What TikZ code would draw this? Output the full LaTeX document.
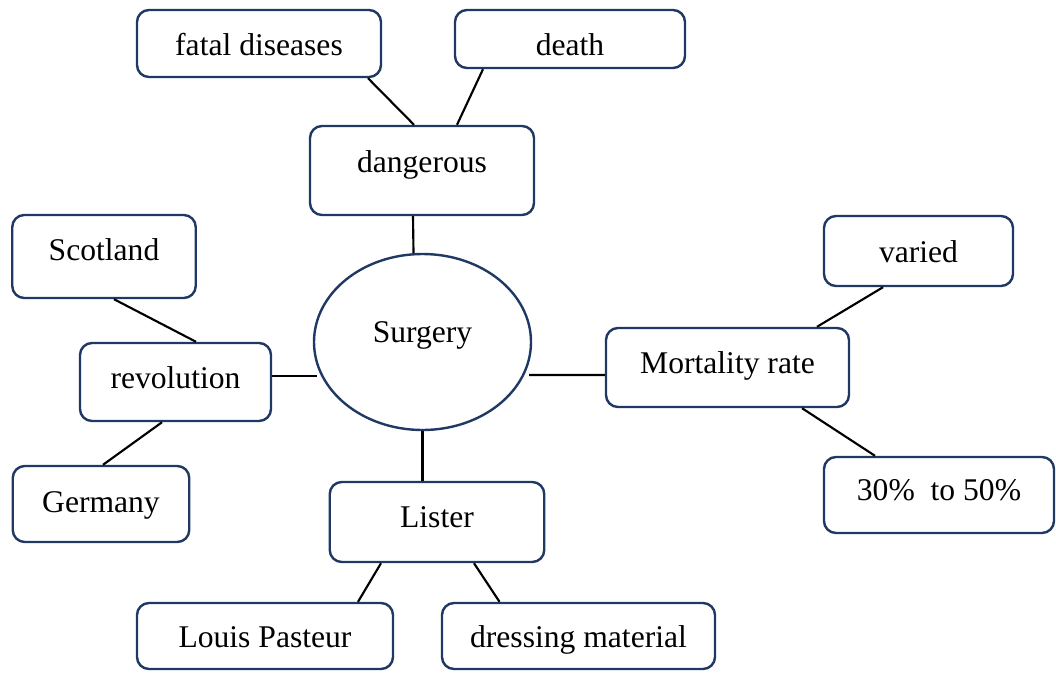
\documentclass[tikz,border=0pt]{standalone}
\usepackage{fontspec}
\setmainfont{Liberation Serif}
\usetikzlibrary{shapes.geometric}
\definecolor{navy}{RGB}{31,56,100}
\begin{document}
\begin{tikzpicture}[x=0.75pt,y=-0.75pt,
  every node/.style={inner sep=0pt, text height=1.2em},
  bx/.style={draw=navy, line width=1.8pt, rounded corners=9pt, rectangle},
  ov/.style={draw=navy, line width=1.8pt, ellipse},
  link/.style={draw=black, line width=1.6pt}]
\fontsize{23.7pt}{28pt}\selectfont
\useasboundingbox (0,0) rectangle (1056,672);

\node[bx, minimum width=183pt, minimum height=50.25pt, text depth=0.445em] (fatal) at (259,43.5) {fatal diseases};
\node[bx, minimum width=172.5pt, minimum height=43.5pt, text depth=0.16em] (death) at (570,39) {death};
\node[bx, minimum width=168pt, minimum height=66.75pt, text depth=1.05em] (dang) at (422,170.5) {dangerous};
\node[bx, minimum width=137.6pt, minimum height=62.25pt, text depth=0.92em] (scot) at (104,256.5) {Scotland};
\node[bx, minimum width=141.75pt, minimum height=52.5pt, text depth=0.48em] (varied) at (918.5,251) {varied};
\node[ov, minimum width=162.75pt, minimum height=132pt, text depth=1.17em] (surg) at (422.5,342) {Surgery};
\node[bx, minimum width=143.25pt, minimum height=58.5pt, text depth=0.79em] (rev) at (175.5,382) {revolution};
\node[bx, minimum width=182.25pt, minimum height=59.25pt, text depth=0.825em] (mort) at (727.5,367.5) {Mortality rate};
\node[bx, minimum width=132.4pt, minimum height=57pt, text depth=0.67em] (germ) at (101,504) {Germany};
\node[bx, minimum width=160.9pt, minimum height=60pt, text depth=0.86em] (lister) at (437,522) {Lister};
\node[bx, minimum width=172.5pt, minimum height=57pt, text depth=0.86em] (pct) at (939,495) {30\%\ \ to 50\%};
\node[bx, minimum width=192pt, minimum height=49.5pt, text depth=0.48em] (louis) at (265,636) {Louis Pasteur};
\node[bx, minimum width=204.75pt, minimum height=49.5pt, text depth=0.48em] (dress) at (578.5,636) {dressing material};

\draw[link] ([xshift=81.75pt]fatal.south) -- ([xshift=-6pt]dang.north);
\draw[link] ([xshift=-65.25pt]death.south) -- ([xshift=26.25pt]dang.north);
\draw[link] ([xshift=-6.75pt]dang.south) -- ([xshift=-6.75pt]surg.north);
\draw[link] (surg.south) -- (surg.south |- lister.north);
\draw[link] ([yshift=4.5pt]rev.east) -- ([xshift=3pt,yshift=-25.5pt]surg.west);
\draw[link] ([xshift=-2.25pt,yshift=-24.75pt]surg.east) -- ([yshift=-5.6pt]mort.west);
\draw[link] ([xshift=7.5pt]scot.south) -- ([xshift=15.4pt]rev.north);
\draw[link] ([xshift=-10.1pt]rev.south) -- ([xshift=1.5pt]germ.north);
\draw[link] ([xshift=67.1pt]mort.north) -- ([xshift=-26.6pt]varied.south);
\draw[link] ([xshift=55.9pt]mort.south) -- ([xshift=-48pt]pct.north);
\draw[link] ([xshift=-42pt]lister.south) -- ([xshift=69.75pt]louis.north);
\draw[link] ([xshift=27.75pt]lister.south) -- ([xshift=-59.25pt]dress.north);
\end{tikzpicture}
\end{document}
